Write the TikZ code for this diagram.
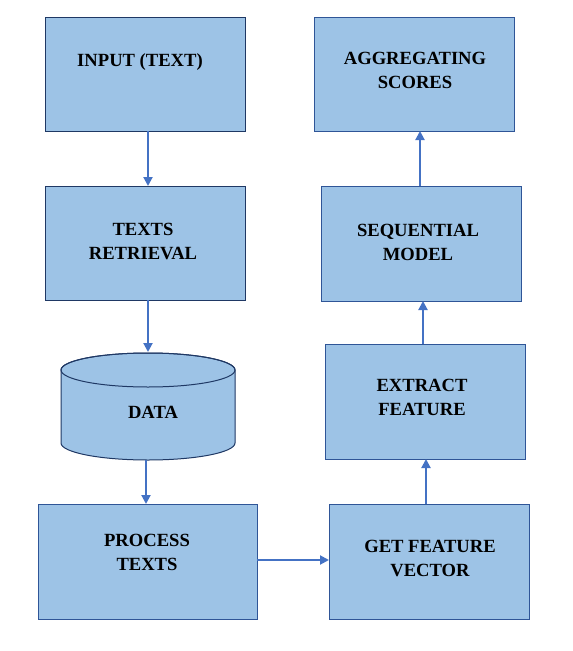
\documentclass[tikz,border=0pt]{standalone}
\usepackage{fontspec}
\setmainfont{Liberation Serif}
\usetikzlibrary{arrows.meta,calc}
\definecolor{boxfill}{HTML}{9DC3E6}
\definecolor{boxline}{HTML}{2F5597}
\definecolor{darkline}{HTML}{1F3864}
\definecolor{arrowc}{HTML}{4472C4}
\begin{document}
\begin{tikzpicture}[x=1pt,y=-1pt,
 box/.style={draw=boxline, line width=1pt, fill=boxfill, inner sep=0, outer sep=0, anchor=north west},
 lbl/.style={font=\fontsize{18.6}{24}\selectfont\bfseries, align=center, inner sep=0},
 arr/.style={draw=arrowc, line width=2pt, -{Triangle[length=9pt,width=9pt]}}]
\useasboundingbox (0,0) rectangle (573,651);
% boxes
\node[box, draw=darkline, minimum width=200, minimum height=114] (inp) at (45,17) {};
\node[box, draw=darkline, minimum width=200, minimum height=114] (ret) at (45,186) {};
\node[box, minimum width=219, minimum height=115] (proc) at (38,504) {};
\node[box, minimum width=200, minimum height=115] (gfv) at (329,504) {};
\node[box, minimum width=200, minimum height=115] (ext) at (325,344) {};
\node[box, minimum width=200, minimum height=115] (seq) at (321,186) {};
\node[box, minimum width=200, minimum height=114] (agg) at (314,17) {};
% cylinder
\filldraw[draw=darkline, fill=boxfill, line width=1pt]
  (61,370) -- (61,443) arc[start angle=180, end angle=360, x radius=87, y radius=-17]
  -- (235,370) arc[start angle=0, end angle=180, x radius=87, y radius=-17] -- cycle;
\draw[draw=darkline, line width=1pt] (148,370) ellipse[x radius=87, y radius=17];
\node[minimum width=174, minimum height=108, inner sep=0, outer sep=0] (data) at (148,406) {};
% labels
\node[lbl] (inpT) at (140,62) {INPUT (TEXT)};
\node[lbl] (retT) at (143,241) {TEXTS\\RETRIEVAL};
\node[lbl] (dataT) at (153,412) {DATA};
\node[lbl] (procT) at (147,552) {PROCESS\\TEXTS};
\node[lbl] (gfvT) at (430,558) {GET FEATURE\\VECTOR};
\node[lbl] (extT) at (422,397) {EXTRACT\\FEATURE};
\node[lbl] (seqT) at (418,242) {SEQUENTIAL\\MODEL};
\node[lbl] (aggT) at (415,70) {AGGREGATING\\SCORES};
% arrows
\draw[arr] ([xshift=3]inp.south) -- ([xshift=3]inp.south |- ret.north);
\draw[arr] ([xshift=3]ret.south) -- ([xshift=3]ret.south |- data.north);
\draw[arr] ([xshift=-2]data.south) -- ([xshift=-2]data.south |- proc.north);
\draw[arr] ([yshift=1.5]proc.east) -- ([yshift=1.5]proc.east -| gfv.west);
\draw[arr] ([xshift=-3]gfv.north) -- ([xshift=-3]gfv.north |- ext.south);
\draw[arr] ([xshift=-2]ext.north) -- ([xshift=-2]ext.north |- seq.south);
\draw[arr] ([xshift=-1]seq.north) -- ([xshift=-1]seq.north |- agg.south);
\end{tikzpicture}
\end{document}
